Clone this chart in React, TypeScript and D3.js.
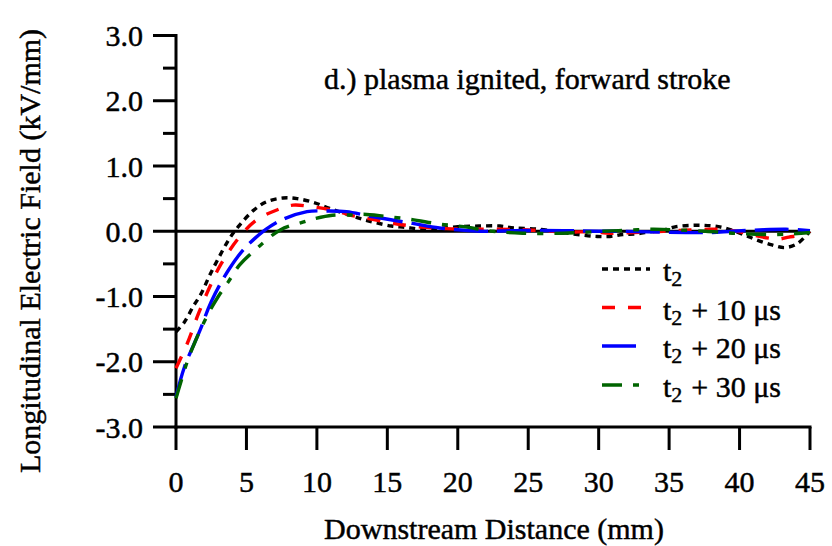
import React from "react";
import * as d3 from "d3";

const xTicks = [0, 5, 10, 15, 20, 25, 30, 35, 40, 45];
const yMajor = [3, 2, 1, 0, -1, -2, -3];
const yMinor = [2.5, 1.5, 0.5, -0.5, -1.5, -2.5];
const yLabels = ["3.0", "2.0", "1.0", "0.0", "-1.0", "-2.0", "-3.0"];

const blackX = [0, 0.6, 1.2, 1.8, 2.4, 3.0, 3.8, 4.5, 5.5, 6.4, 7.6, 8.6, 9.8, 10.9, 12.3, 13.3, 14.2, 15.3, 16.3, 17.4, 18.6, 20, 21.5, 23, 24, 25.8, 27.5, 28.9, 29.9, 30.8, 31.7, 32.7, 33.6, 34.6, 35.5, 36.6, 37.5, 38.5, 39.4, 40.4, 41.3, 42.3, 43.2, 44.1, 45];
const blackY = [-1.54, -1.39, -1.16, -0.95, -0.67, -0.42, -0.11, 0.09, 0.32, 0.45, 0.51, 0.5, 0.44, 0.35, 0.25, 0.18, 0.13, 0.08, 0.06, 0.03, 0.04, 0.07, 0.08, 0.08, 0.05, 0.03, -0.02, -0.06, -0.08, -0.08, -0.05, -0.04, -0.01, 0.02, 0.07, 0.09, 0.09, 0.07, 0.02, -0.06, -0.14, -0.21, -0.25, -0.19, 0.0];

const redX = [0, 0.8, 1.6, 2.4, 3.2, 4.5, 5.7, 7.2, 8.3, 9.5, 11.2, 12.5, 13.3, 15.2, 17.1, 19.2, 22.7, 25, 27.5, 29.6, 30.8, 32.5, 34.6, 36.5, 38.4, 39.8, 41, 42.2, 42.8, 43.5, 44.3, 45];
const redY = [-2.1, -1.72, -1.26, -0.85, -0.5, -0.09, 0.17, 0.33, 0.4, 0.38, 0.32, 0.24, 0.21, 0.13, 0.07, 0.04, 0.03, 0.02, -0.01, -0.01, -0.03, -0.02, 0.0, 0.02, 0.03, 0.0, -0.06, -0.11, -0.12, -0.09, -0.06, 0.0];

const blueX = [0, 0.6, 1.7, 2.5, 3.8, 5.1, 7.2, 9.3, 10.7, 12.1, 13.8, 16.8, 18.7, 21.6, 24, 27.5, 30, 31.5, 33.5, 36.2, 37.9, 39.5, 41.4, 43.3, 45];
const blueY = [-2.54, -2.08, -1.52, -1.08, -0.57, -0.21, 0.14, 0.3, 0.31, 0.3, 0.23, 0.12, 0.05, 0.0, 0.01, 0.01, 0.0, 0.0, -0.01, -0.02, -0.02, 0.0, 0.02, 0.03, 0.01];

const greenX = [0, 0.8, 1.5, 2.3, 3.0, 3.7, 4.5, 5.7, 7.4, 9.0, 9.8, 11.1, 12.5, 13.3, 14.8, 16.7, 18.7, 20.4, 22.5, 24.6, 27.5, 30.3, 31.4, 33.8, 35.6, 37.6, 39.5, 41.9, 43.8, 45];
const greenY = [-2.56, -2.0, -1.62, -1.26, -1.0, -0.78, -0.52, -0.27, 0.02, 0.14, 0.19, 0.245, 0.25, 0.26, 0.23, 0.18, 0.11, 0.07, 0.0, -0.03, -0.03, 0.0, 0.01, 0.03, 0.02, 0.0, -0.03, -0.05, -0.04, -0.02];

const legendLabels = ["", "+ 10 μs", "+ 20 μs", "+ 30 μs"];

const FONT = "'Liberation Serif', 'Times New Roman', serif";

const series = [
  { xs: blackX, ys: blackY, color: "#000000", dash: "6,5", legLen: 48 },
  { xs: redX, ys: redY, color: "#ff0000", dash: "13,13", legLen: 41 },
  { xs: blueX, ys: blueY, color: "#0000ff", dash: "34,9", legLen: 35 },
  { xs: greenX, ys: greenY, color: "#006400", dash: "20,11,6,11", legLen: 42 },
];

export default function App() {
  const x = d3.scaleLinear().domain([0, 45]).range([176, 810]);
  const y = d3.scaleLinear().domain([-3, 3]).range([427, 35.5]);
  const line = d3
    .line<[number, number]>()
    .x((d) => x(d[0]))
    .y((d) => y(d[1]))
    .curve(d3.curveCatmullRom.alpha(0.5));

  const legendY = [269, 307.5, 346, 385];
  const textStroke = { stroke: "#000", strokeWidth: 0.45 };

  return (
    <svg
      width={832}
      height={546}
      style={{ position: "absolute", left: 0, top: 0, background: "#fff" }}
      fontFamily={FONT}
    >
      <rect x={0} y={0} width={832} height={546} fill="#fff" />
      {/* zero line */}
      <line x1={x(0)} x2={x(45)} y1={y(0)} y2={y(0)} stroke="#000" strokeWidth={3} />
      {/* y axis */}
      <line x1={x(0)} x2={x(0)} y1={y(3) - 1.5} y2={y(-3) + 1.5} stroke="#000" strokeWidth={3} />
      {yMajor.map((v, i) => (
        <g key={"ym" + i}>
          <line x1={x(0) - 23} x2={x(0)} y1={y(v)} y2={y(v)} stroke="#000" strokeWidth={3} />
          <text x={143} y={y(v) + 10.5} fontSize={30} textAnchor="end" fill="#000" {...textStroke}>
            {yLabels[i]}
          </text>
        </g>
      ))}
      {yMinor.map((v, i) => (
        <line key={"yn" + i} x1={x(0) - 13} x2={x(0)} y1={y(v)} y2={y(v)} stroke="#000" strokeWidth={3} />
      ))}
      {/* x axis */}
      <line x1={x(0) - 1.5} x2={x(45) + 1.5} y1={y(-3)} y2={y(-3)} stroke="#000" strokeWidth={3} />
      {xTicks.map((v) => (
        <g key={"xt" + v}>
          <line x1={x(v)} x2={x(v)} y1={y(-3)} y2={y(-3) + 23} stroke="#000" strokeWidth={3} />
          <text x={x(v)} y={492} fontSize={30} textAnchor="middle" fill="#000" {...textStroke}>
            {v}
          </text>
        </g>
      ))}
      {/* axis titles */}
      <text x={494} y={539} fontSize={30} textAnchor="middle" fill="#000" {...textStroke}>
        Downstream Distance (mm)
      </text>
      <text
        transform={`translate(40,251) rotate(-90)`}
        fontSize={30}
        textAnchor="middle"
        fill="#000"
        {...textStroke}
      >
        Longitudinal Electric Field (kV/mm)
      </text>
      {/* annotation */}
      <text x={324} y={89} fontSize={30} fill="#000" {...textStroke}>
        d.) plasma ignited, forward stroke
      </text>
      {/* curves */}
      {series.map((s, i) => (
        <path
          key={"s" + i}
          d={line(s.xs.map((xv, j) => [xv, s.ys[j]] as [number, number])) || ""}
          fill="none"
          stroke={s.color}
          strokeWidth={3.4}
          strokeDasharray={s.dash}
        />
      ))}
      {/* legend */}
      {series.map((s, i) => (
        <g key={"lg" + i}>
          <line
            x1={602}
            x2={602 + s.legLen}
            y1={legendY[i]}
            y2={legendY[i]}
            stroke={s.color}
            strokeWidth={3.4}
            strokeDasharray={s.dash}
          />
          <text x={663} y={legendY[i] + 12} fontSize={30} fill="#000" {...textStroke}>
            t
            <tspan fontSize={22} dy={5}>
              2
            </tspan>
            {legendLabels[i] ? (
              <tspan dy={-5} dx={9}>
                {legendLabels[i]}
              </tspan>
            ) : null}
          </text>
        </g>
      ))}
    </svg>
  );
}
